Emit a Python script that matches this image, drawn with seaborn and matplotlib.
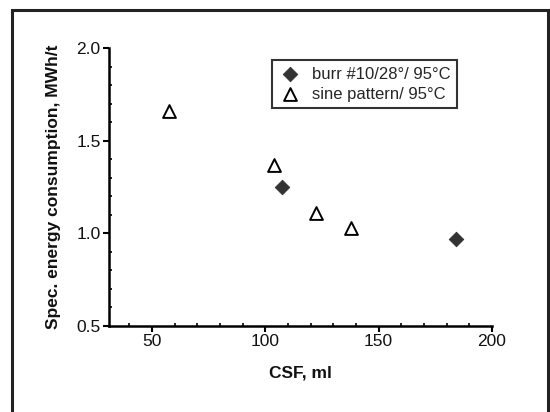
import matplotlib
matplotlib.use("Agg")
import matplotlib.pyplot as plt
import seaborn as sns
import pandas as pd
from matplotlib.patches import Rectangle
from matplotlib.ticker import MultipleLocator

# Refining data: freeness (CSF) vs. specific energy consumption
burr_csf = [107.2, 184.0]
burr_energy = [1.25, 0.97]
sine_csf = [57.5, 103.7, 122.2, 137.7]
sine_energy = [1.66, 1.37, 1.11, 1.03]
series_labels = ["burr #10/28°/ 95°C", "sine pattern/ 95°C"]

df = pd.concat([
    pd.DataFrame({"CSF": burr_csf, "SEC": burr_energy, "series": series_labels[0]}),
    pd.DataFrame({"CSF": sine_csf, "SEC": sine_energy, "series": series_labels[1]}),
])

sns.set_theme(style="ticks")
plt.rcParams["font.family"] = ["Liberation Sans", "DejaVu Sans"]

fig = plt.figure(figsize=(5.5, 4.12), dpi=100)
ax = fig.add_axes([109 / 550, 1 - 326 / 412, (492 - 109) / 550, (326 - 48) / 412])

sns.scatterplot(data=df[df.series == series_labels[0]], x="CSF", y="SEC", ax=ax,
                marker="D", s=55, color="#333333", edgecolor="#333333",
                label=series_labels[0])
sns.scatterplot(data=df[df.series == series_labels[1]], x="CSF", y="SEC", ax=ax,
                marker="^", s=85, facecolor="white", edgecolor="black",
                linewidth=1.4, label=series_labels[1])

ax.set_xlim(31, 200)
ax.set_ylim(0.5, 2.0)
ax.set_xticks([50, 100, 150, 200])
ax.set_yticks([0.5, 1.0, 1.5, 2.0])
ax.set_yticklabels(["0.5", "1.0", "1.5", "2.0"])
ax.xaxis.set_minor_locator(MultipleLocator(10))
ax.yaxis.set_minor_locator(MultipleLocator(0.1))
ax.tick_params(which="major", direction="out", length=4, width=1.5, pad=2,
               labelsize=12.5, color="black", labelcolor="#111111")
ax.tick_params(which="minor", direction="in", length=2.5, width=1.2, color="black")

ax.spines["top"].set_visible(False)
ax.spines["right"].set_visible(False)
for s in ("left", "bottom"):
    ax.spines[s].set_linewidth(1.8)
    ax.spines[s].set_color("black")

ax.set_xlabel("CSF, ml", fontsize=12.5, fontweight="bold", labelpad=12, color="#111111")
ax.set_ylabel("Spec. energy consumption, MWh/t", fontsize=12.5, fontweight="bold",
              labelpad=11, color="#111111")

leg = ax.legend(loc="upper left", bbox_to_anchor=((272 - 109) / 383, 1 - (60 - 48) / 278),
                frameon=True, fancybox=False, fontsize=12, handletextpad=0.6,
                borderpad=0.4, labelspacing=0.3, handlelength=1.4, borderaxespad=0)
leg.get_frame().set_edgecolor("black")
leg.get_frame().set_linewidth(1.5)

# outer frame around the figure
fig.patches.append(Rectangle((12 / 550, -0.05), (548 - 12) / 550, 1.05 - 10 / 412,
                             transform=fig.transFigure, fill=False,
                             edgecolor="#222222", linewidth=2.2))

fig.savefig("out.png", dpi=100)
